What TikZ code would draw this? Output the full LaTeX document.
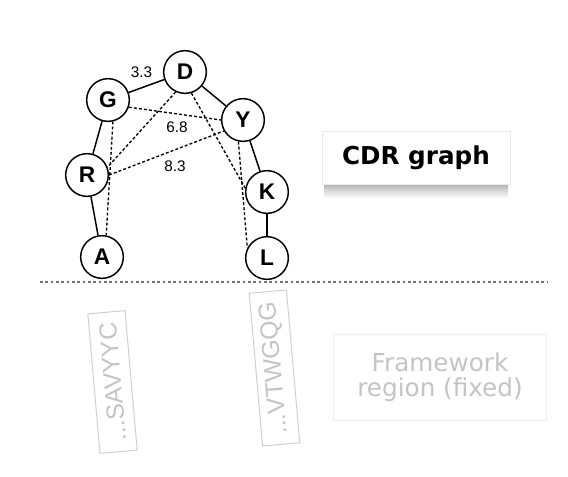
\documentclass[tikz,border=0pt]{standalone}
\usepackage{fontspec}
\setmainfont{Liberation Sans}
\newfontfamily\verdana{DejaVu Sans}
\definecolor{faint}{HTML}{C4C4C4}
\definecolor{faintline}{HTML}{CDCDCD}
\begin{document}
\begin{tikzpicture}[x=0.75pt,y=-0.75pt,
  vtx/.style={circle,draw=black,line width=1.1pt,fill=white,minimum size=32pt,inner sep=0pt,
    font=\fontsize{17}{17}\selectfont\bfseries},
  solidedge/.style={line width=1.1pt},
  dashedge/.style={line width=1pt,dash pattern=on 2.2pt off 1.6pt},
  elabel/.style={font=\fontsize{11.5}{11.5}\selectfont},
  seqbox/.style={draw=faintline,line width=0.7pt,fill=white,text=faint,inner sep=0pt,
    font=\fontsize{18.5}{18.5}\selectfont},
]
\useasboundingbox (0,0) rectangle (568,476);
\fill[white] (0,0) rectangle (568,476);

% shadow of CDR box
\shade[top color=black!30,bottom color=white] (324,184) rectangle (508,198);
\node[draw=black!8,line width=0.4pt,fill=white,minimum width=141pt,minimum height=40pt,
  font=\verdana\fontsize{18.5}{18.5}\selectfont\bfseries] (cdr) at (416,158) {CDR graph};

% framework box
\node[draw=black!7,line width=0.6pt,fill=white,minimum width=160pt,minimum height=64pt,
  align=center,text=faint,font=\verdana\fontsize{18.5}{19}\selectfont] (fw) at (440,377.5)
  {Framework\\region (fixed)};

% dotted separator
\coordinate (sepL) at (40,282);
\coordinate (sepR) at (548,282);
\draw[black!55,line width=0.8pt,dash pattern=on 2pt off 2pt] (sepL) -- (sepR);

% sequence boxes
\node[seqbox,rotate=95,minimum width=105pt,minimum height=28pt] (s1) at (112.5,382) {...SAVYYC};
\node[seqbox,rotate=95,minimum width=115pt,minimum height=28pt] (s2) at (274.5,368) {...VTWGQG};

% vertices
\node[vtx] (D) at (185,72) {D};
\node[vtx] (G) at (108,100) {G};
\node[vtx] (Y) at (243,120) {Y};
\node[vtx] (R) at (87,175) {R};
\node[vtx] (K) at (267,192) {K};
\node[vtx] (A) at (102,257) {A};
\node[vtx] (L) at (267,258) {L};

% solid edges
\draw[solidedge] (G) -- (D);
\draw[solidedge] (D) -- (Y);
\draw[solidedge] (G) -- (R);
\draw[solidedge] (R) -- (A);
\draw[solidedge] (Y) -- (K);
\draw[solidedge] (K) -- (L);

% dashed edges
\draw[dashedge] (G.-19) -- (Y.180);
\draw[dashedge] (D.-115) -- (R.21);
\draw[dashedge] (R.0) -- (Y.210);
\draw[dashedge] (G.-77) -- (A.79);
\draw[dashedge] (D.-73) -- (K.170);
\draw[dashedge] (Y.-102) -- (L.153);

% edge labels
\node[elabel] (l33) at (141.5,72) {3.3};
\node[elabel] (l68) at (177,127) {6.8};
\node[elabel] (l83) at (175,166) {8.3};
\end{tikzpicture}
\end{document}
